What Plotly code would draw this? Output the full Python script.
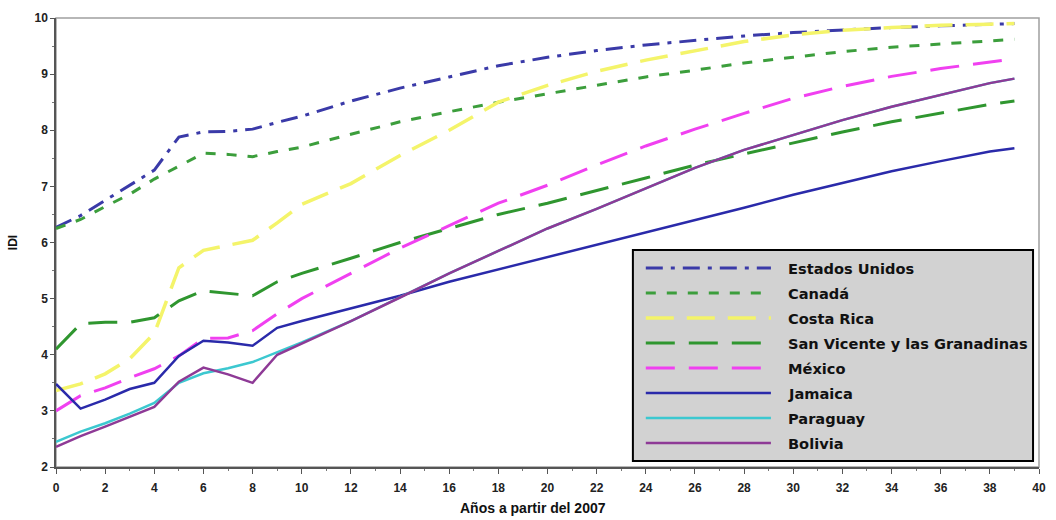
import plotly.graph_objects as go

# ---- data ----
years = [0, 1, 2, 3, 4, 5, 6, 7, 8, 9, 10, 12, 14, 16, 18, 20, 22, 24, 26, 28, 30, 32, 34, 36, 38, 39]

estados_unidos = [6.27, 6.48, 6.75, 7.02, 7.29, 7.88, 7.97, 7.98, 8.02, 8.14, 8.25, 8.52, 8.75, 8.95, 9.15, 9.30,
                  9.42, 9.52, 9.60, 9.68, 9.74, 9.79, 9.83, 9.86, 9.89, 9.90]
canada = [6.25, 6.41, 6.64, 6.86, 7.13, 7.36, 7.59, 7.57, 7.53, 7.62, 7.70, 7.93, 8.15, 8.33, 8.50, 8.65,
          8.80, 8.95, 9.07, 9.20, 9.30, 9.40, 9.48, 9.54, 9.60, 9.62]
costa_rica = [3.36, 3.48, 3.66, 3.93, 4.38, 5.55, 5.86, 5.95, 6.04, 6.35, 6.68, 7.05, 7.55, 8.00, 8.50, 8.80,
              9.05, 9.25, 9.42, 9.58, 9.70, 9.78, 9.83, 9.87, 9.89, 9.90]
san_vicente = [4.10, 4.55, 4.58, 4.58, 4.66, 4.96, 5.14, 5.10, 5.05, 5.30, 5.45, 5.72, 6.00, 6.25, 6.50, 6.70,
               6.92, 7.15, 7.38, 7.58, 7.78, 7.97, 8.15, 8.30, 8.46, 8.52]
mexico = [3.00, 3.27, 3.41, 3.59, 3.75, 3.98, 4.29, 4.30, 4.43, 4.73, 5.00, 5.45, 5.90, 6.30, 6.70, 7.02,
          7.38, 7.72, 8.02, 8.30, 8.57, 8.78, 8.96, 9.10, 9.22, 9.27]
jamaica = [3.48, 3.04, 3.20, 3.39, 3.50, 3.98, 4.25, 4.22, 4.16, 4.48, 4.60, 4.83, 5.05, 5.30, 5.52, 5.73,
           5.95, 6.17, 6.40, 6.62, 6.85, 7.06, 7.27, 7.45, 7.62, 7.68]
paraguay = [2.45, 2.63, 2.78, 2.95, 3.14, 3.50, 3.67, 3.76, 3.87, 4.05, 4.22, 4.60, 5.02, 5.45, 5.85, 6.25,
            6.60, 6.97, 7.33, 7.65, 7.92, 8.18, 8.42, 8.63, 8.84, 8.92]
bolivia = [2.36, 2.55, 2.72, 2.90, 3.07, 3.52, 3.77, 3.65, 3.50, 4.00, 4.20, 4.60, 5.02, 5.45, 5.85, 6.25,
           6.60, 6.97, 7.33, 7.65, 7.92, 8.18, 8.42, 8.63, 8.84, 8.92]

names = ["Estados Unidos", "Canadá", "Costa Rica", "San Vicente y las Granadinas",
         "México", "Jamaica", "Paraguay", "Bolivia"]
series = [estados_unidos, canada, costa_rica, san_vicente, mexico, jamaica, paraguay, bolivia]

# ---- styles ----
styles = [
    dict(color="#3a3aa8", width=3.0, dash="17px,8px,4px,8px"),
    dict(color="#3c9e3c", width=3.0, dash="10px,11px"),
    dict(color="#f4f46a", width=3.5, dash="28px,13px"),
    dict(color="#2f962f", width=3.0, dash="29px,14px"),
    dict(color="#f040f0", width=3.0, dash="29px,14px"),
    dict(color="#2a2aaa", width=2.5, dash="solid"),
    dict(color="#3cc8d0", width=2.5, dash="solid"),
    dict(color="#8e3a96", width=2.5, dash="solid"),
]

fig = go.Figure()
for name, vals, st in zip(names, series, styles):
    fig.add_trace(go.Scatter(x=years, y=vals, mode="lines", name=name, line=st,
                             showlegend=False))

W, H = 1056, 520
ml, mr, mt, mb = 56, 10, 18, 53
pw, ph = W - ml - mr, H - mt - mb

def px_x(p):
    return (p - ml) / pw

def px_y(p):
    return (H - mb - p) / ph

shapes = [
    # gray frame (top / right)
    dict(type="rect", xref="paper", yref="paper", x0=0, x1=1, y0=0, y1=1,
         line=dict(color="#a0a0a0", width=1.5), layer="below"),
    # legend box
    dict(type="rect", xref="paper", yref="paper", x0=px_x(637), x1=px_x(1040),
         y0=px_y(461), y1=px_y(250), fillcolor="#d2d2d2",
         line=dict(color="#000000", width=2), layer="above"),
]
annotations = []
for i, (name, st) in enumerate(zip(names, styles)):
    yc = 268 + 25 * i
    shapes.append(dict(type="line", xref="paper", yref="paper",
                       x0=px_x(650), x1=px_x(776), y0=px_y(yc), y1=px_y(yc),
                       line=st, layer="above"))
    annotations.append(dict(xref="paper", yref="paper", x=px_x(791), y=px_y(yc),
                            text=name, showarrow=False, xanchor="left", yanchor="middle",
                            font=dict(family="DejaVu Sans", size=14.6,
                                      color="#111111", weight="bold")))

annotations.append(dict(xref="paper", yref="paper", x=px_x(536), y=px_y(508),
                        text="Años a partir del 2007", showarrow=False,
                        xanchor="center", yanchor="middle",
                        font=dict(family="Liberation Sans, Arial", size=14,
                                  color="#111111", weight="bold")))

tickfont = dict(family="Liberation Sans Narrow, Liberation Sans, Arial", size=12,
                color="#222222", weight="bold")

fig.update_layout(
    width=W, height=H,
    margin=dict(l=ml, r=mr, t=mt, b=mb),
    paper_bgcolor="white", plot_bgcolor="white",
    shapes=shapes, annotations=annotations,
    showlegend=False,
    xaxis=dict(range=[0, 40], tick0=0, dtick=2, showgrid=False, zeroline=False,
               showline=True, linecolor="#555555", linewidth=1.5,
               ticks="outside", ticklen=5, tickcolor="#555555", tickwidth=1,
               ticklabelstandoff=4,
               minor=dict(dtick=1, ticks="outside", ticklen=2, tickcolor="#777777"),
               tickfont=tickfont),
    yaxis=dict(range=[2, 10], tick0=2, dtick=1, showgrid=False, zeroline=False,
               showline=True, linecolor="#555555", linewidth=1.5,
               ticks="outside", ticklen=4, tickcolor="#555555", tickwidth=1,
               minor=dict(dtick=0.5, ticks="outside", ticklen=2, tickcolor="#777777"),
               tickfont=tickfont,
               title=dict(text="IDI", standoff=14,
                          font=dict(family="Liberation Sans, Arial", size=12,
                                    color="#111111", weight="bold"))),
)

fig.write_html("out.html")
